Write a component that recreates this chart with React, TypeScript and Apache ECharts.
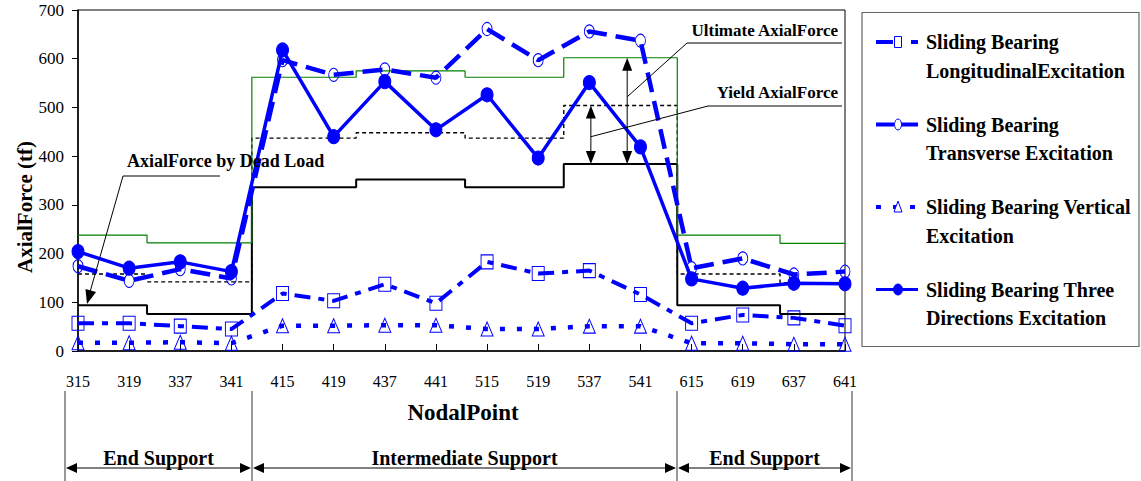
import React, { useEffect, useRef } from "react";
import * as echarts from "echarts";

const categories = ["315", "319", "337", "341", "415", "419", "437", "441", "515", "519", "537", "541", "615", "619", "637", "641"];
const longitudinal = [57, 57, 51, 45, 118, 103, 137, 98, 183, 159, 165, 116, 57, 74, 68, 52];
const transverse = [174, 144, 168, 149, 597, 567, 578, 561, 661, 597, 656, 637, 170, 190, 157, 163];
const vertical = [17, 17, 18, 16, 52, 52, 53, 53, 45, 45, 51, 51, 16, 16, 14, 14];
const threeDir = [204, 170, 183, 163, 618, 440, 553, 454, 526, 396, 551, 419, 148, 129, 139, 138];

// step breakpoints in category-index units
const stepBreaks = [0, 1.35, 3.4, 5.44, 7.57, 9.5, 11.72, 13.73, 15];
const deadLoad = [94, 76, 336, 352, 336, 384, 94, 76];
const yieldForce = [158, 142, 437, 448, 437, 504, 158, 140];
const ultimateForce = [238, 222, 562, 575, 562, 602, 238, 221];

const yMin = 0;
const yMax = 700;
const yInterval = 100;

const seriesNames = [
  "Sliding Bearing Longitudinal Excitation",
  "Sliding Bearing Transverse Excitation",
  "Sliding Bearing Vertical Excitation",
  "Sliding Bearing Three Directions Excitation",
];
const legendLines = [
  ["Sliding Bearing", "LongitudinalExcitation"],
  ["Sliding Bearing", "Transverse Excitation"],
  ["Sliding Bearing Vertical", "Excitation"],
  ["Sliding Bearing Three", "Directions Excitation"],
];

export default function App() {
  const ref = useRef<HTMLDivElement>(null);
  useEffect(() => {
    const chart = echarts.init(ref.current!, null, { renderer: "svg" });
    const font = "'Liberation Serif', 'Times New Roman', serif";
    const blue = "#0000ff";
    const stepData = (vals: number[]) => {
      const d = vals.map((v, i) => [stepBreaks[i], v]);
      d.push([stepBreaks[stepBreaks.length - 1], vals[vals.length - 1]]);
      return d;
    };
    const openItem = { color: "rgba(255,255,255,0)", borderColor: blue, borderWidth: 1 };
    const dashes = [[16, 8, 6, 8], [20, 9], [5, 12], null];

    chart.setOption({
      animation: false,
      grid: { left: 78, right: 296, top: 10, bottom: 130, show: true, borderColor: "#000", borderWidth: 1 },
      xAxis: [
        {
          type: "category",
          data: categories,
          boundaryGap: false,
          axisLine: { lineStyle: { color: "#000", width: 1.5 } },
          axisTick: { inside: true, length: 7, lineStyle: { color: "#000" } },
          axisLabel: { interval: 0, color: "#000", fontFamily: font, fontSize: 16, margin: 22 },
        },
        { type: "value", min: 0, max: 15, show: false },
      ],
      yAxis: {
        type: "value",
        min: yMin,
        max: yMax,
        interval: yInterval,
        axisLine: { show: true, lineStyle: { color: "#000", width: 1.5 } },
        axisTick: { show: true, length: 6, lineStyle: { color: "#000" } },
        splitLine: { show: false },
        axisLabel: { color: "#000", fontFamily: font, fontSize: 17, margin: 14 },
      },
      series: [
        {
          name: "Dead Load",
          type: "line",
          xAxisIndex: 1,
          data: stepData(deadLoad),
          step: "end",
          symbol: "none",
          lineStyle: { color: "#000", width: 2 },
          z: 1,
        },
        {
          name: "Yield AxialForce",
          type: "line",
          xAxisIndex: 1,
          data: stepData(yieldForce),
          step: "end",
          symbol: "none",
          lineStyle: { color: "#000", width: 1.4, type: [4, 3] },
          z: 1,
        },
        {
          name: "Ultimate AxialForce",
          type: "line",
          xAxisIndex: 1,
          data: stepData(ultimateForce),
          step: "end",
          symbol: "none",
          lineStyle: { color: "#008000", width: 1.2 },
          z: 1,
        },
        {
          name: seriesNames[0],
          type: "line",
          data: longitudinal,
          symbol: "rect",
          symbolSize: [12, 14],
          itemStyle: openItem,
          lineStyle: { color: blue, width: 4, type: dashes[0], cap: "butt" },
          z: 3,
        },
        {
          name: seriesNames[1],
          type: "line",
          data: transverse,
          symbol: "circle",
          symbolSize: [10, 13],
          itemStyle: openItem,
          lineStyle: { color: blue, width: 4.5, type: dashes[1], cap: "butt" },
          z: 3,
        },
        {
          name: seriesNames[2],
          type: "line",
          data: vertical,
          symbol: "triangle",
          symbolSize: [12, 14],
          itemStyle: openItem,
          lineStyle: { color: blue, width: 4.5, type: dashes[2], cap: "butt" },
          z: 3,
        },
        {
          name: seriesNames[3],
          type: "line",
          data: threeDir,
          symbol: "circle",
          symbolSize: [12, 14],
          itemStyle: { color: blue, borderColor: blue, borderWidth: 1 },
          lineStyle: { color: blue, width: 3.5 },
          z: 4,
        },
      ],
    });

    const px = (x: number, y: number) =>
      chart.convertToPixel({ xAxisIndex: 1, yAxisIndex: 0 }, [x, y]) as number[];

    const head = (tx: number, ty: number, fx: number, fy: number, len = 12, hw = 4.5) => {
      const dx = tx - fx, dy = ty - fy;
      const L = Math.hypot(dx, dy);
      const ux = dx / L, uy = dy / L;
      const bx = tx - ux * len, by = ty - uy * len;
      return {
        type: "polygon",
        shape: { points: [[tx, ty], [bx - uy * hw, by + ux * hw], [bx + uy * hw, by - ux * hw]] },
        style: { fill: "#000" },
        z: 20,
      };
    };
    const ln = (x1: number, y1: number, x2: number, y2: number, w = 1, color = "#000") => ({
      type: "line",
      shape: { x1, y1, x2, y2 },
      style: { stroke: color, lineWidth: w },
      z: 20,
    });
    const txt = (x: number, y: number, text: string, size: number, align = "center", weight = "bold") => ({
      type: "text",
      x,
      y,
      style: { text, fill: "#000", font: `${weight} ${size}px ${font}`, align, verticalAlign: "middle" },
      z: 21,
    });
    const doubleArrow = (x: number, v1: number, v2: number) => {
      const [ax, ay] = px(x, v1);
      const [, by] = px(x, v2);
      return [ln(ax, ay + 6, ax, by - 6, 1), head(ax, ay, ax, by, 13, 5), head(ax, by, ax, ay, 13, 5)];
    };

    const ultTop = px(10.74, ultimateForce[5]);
    const yldTop = px(10.03, yieldForce[5]);
    const ultArrowMid = [ultTop[0], (ultTop[1] + px(10.74, deadLoad[5])[1]) / 2 - 14];
    const yldArrowMid = [yldTop[0], (yldTop[1] + px(10.03, deadLoad[5])[1]) / 2 + 2];

    const g: any[] = [];
    // annotations inside plot
    g.push(...doubleArrow(10.74, ultimateForce[5], deadLoad[5]));
    g.push(...doubleArrow(10.03, yieldForce[5], deadLoad[5]));
    g.push(txt(838, 30, "Ultimate AxialForce", 17, "right"));
    g.push(ln(687, 43, 842, 43));
    g.push(ln(687, 43, ultArrowMid[0], ultArrowMid[1]));
    g.push(txt(838, 92, "Yield AxialForce", 17, "right"));
    g.push(ln(708, 106, 842, 106));
    g.push(ln(708, 106, yldArrowMid[0], yldArrowMid[1]));
    g.push(txt(127, 161, "AxialForce by Dead Load", 18, "left"));
    g.push(ln(123, 176, 220, 176));
    g.push(ln(123, 176, 90, 292));
    g.push(head(87, 304, 123, 176, 14, 5.5));

    // axis titles
    g.push({
      type: "text",
      x: 25,
      y: 207,
      rotation: Math.PI / 2,
      style: { text: "AxialForce (tf)", fill: "#000", font: `bold 21px ${font}`, align: "center", verticalAlign: "middle" },
      z: 21,
    });
    g.push(txt(463, 412, "NodalPoint", 23, "center"));

    // support regions below axis
    const vx = [65, 252, 677, 852];
    vx.forEach((x) => g.push(ln(x, 391, x, 481, 1, "#333")));
    const regionLabels = ["End Support", "Intermediate Support", "End Support"];
    for (let i = 0; i < 3; i++) {
      const a = vx[i], b = vx[i + 1];
      g.push(ln(a + 8, 468, b - 8, 468, 1));
      g.push(head(a + 1, 468, b, 468, 11, 5));
      g.push(head(b - 1, 468, a, 468, 11, 5));
      g.push(txt((a + b) / 2 + 0, 458, regionLabels[i], 20, "center"));
    }

    // custom legend
    g.push({
      type: "rect",
      shape: { x: 862, y: 12.5, width: 277, height: 334 },
      style: { fill: "#fff", stroke: "#666", lineWidth: 1.2 },
      z: 10,
    });
    legendLines.forEach((lines, i) => {
      const y0 = 42 + i * 82.5;
      g.push({
        type: "line",
        shape: { x1: 876, y1: y0, x2: 918, y2: y0 },
        style: { stroke: blue, lineWidth: i === 3 ? 3 : 4, lineDash: dashes[i] ? (i === 2 ? [5, 12] : i === 0 ? [17, 18, 7, 1] : [18, 6]) : null },
        z: 11,
      });
      const mx = 898;
      if (i === 0) g.push({ type: "rect", shape: { x: mx - 3.5, y: y0 - 5.5, width: 7, height: 11 }, style: { fill: "#fff", stroke: blue, lineWidth: 1 }, z: 12 });
      if (i === 1) g.push({ type: "ellipse", shape: { cx: mx, cy: y0, rx: 3.5, ry: 5.5 }, style: { fill: "#fff", stroke: blue, lineWidth: 1 }, z: 12 });
      if (i === 2) g.push({ type: "polygon", shape: { points: [[mx, y0 - 6], [mx - 4, y0 + 5], [mx + 4, y0 + 5]] }, style: { fill: "#fff", stroke: blue, lineWidth: 1 }, z: 12 });
      if (i === 3) g.push({ type: "ellipse", shape: { cx: mx, cy: y0, rx: 4.5, ry: 5.5 }, style: { fill: blue, stroke: blue, lineWidth: 1 }, z: 12 });
      lines.forEach((t, j) => g.push({ ...txt(926, y0 + j * 28.5, t, 20, "left"), z: 12 }));
    });

    chart.setOption({ graphic: g });

    return () => chart.dispose();
  }, []);
  return (
    <div
      ref={ref}
      style={{ position: "fixed", left: 0, top: 0, width: 1141, height: 481, background: "#fff" }}
    />
  );
}
